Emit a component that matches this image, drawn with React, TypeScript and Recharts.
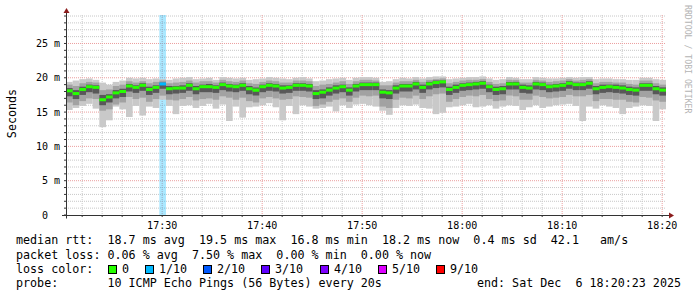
import React from 'react';
import { ComposedChart, Bar, XAxis, YAxis, CartesianGrid } from 'recharts';

// time axis: seconds since midnight, one sample every 40 s
const startTime = 17 * 3600 + 20 * 60 + 23; // 17:20:23
const endTime = startTime + 3600; // 18:20:23
const stepSeconds = 40;
const yMax = 29.15;

const majorLabels = ['17:30', '17:40', '17:50', '18:00', '18:10', '18:20'];
const yLabelTicks = [0, 5, 10, 15, 20, 25];
const yLabels = ['0  ', '5 m', '10 m', '15 m', '20 m', '25 m'];

// median rtt per sample (ms)
const median = [
  18.1, 17.7, 18.3, 18.7, 18.6, 16.8, 17.2, 17.8, 18.0, 18.8, 18.6, 18.9, 18.3, 18.6, 19.1,
  18.4, 18.5, 18.5, 18.9, 18.4, 18.7, 18.7, 18.6, 19.0, 18.8, 18.7, 18.9, 18.4, 18.2, 18.7,
  18.9, 18.8, 18.5, 18.6, 18.9, 18.9, 18.8, 17.7, 17.9, 18.2, 18.5, 18.7, 18.2, 18.8, 19.0,
  19.0, 19.0, 17.9, 17.8, 18.5, 18.8, 18.8, 19.1, 18.6, 19.1, 19.3, 19.4, 18.3, 18.6, 18.9,
  19.0, 19.1, 19.2, 18.7, 18.3, 18.4, 19.1, 19.1, 18.6, 18.5, 19.1, 19.0, 18.7, 18.8, 18.9,
  19.2, 19.0, 19.0, 19.2, 18.4, 18.6, 18.7, 18.6, 18.5, 18.3, 18.2, 18.9, 18.9, 18.4, 18.2,
];

// slowest ping
const pingMax = [
  19.4, 19.6, 19.8, 19.9, 19.7, 19.3, 19.0, 19.4, 19.6, 20.0, 19.9, 20.0, 19.8, 19.9, 19.8,
  19.7, 19.9, 20.0, 20.1, 19.8, 19.9, 20.0, 19.7, 20.1, 20.0, 19.9, 20.0, 19.7, 19.8, 19.9,
  20.1, 20.0, 19.9, 19.8, 20.0, 20.1, 19.9, 19.5, 19.6, 19.8, 19.9, 20.0, 19.7, 20.0, 20.1,
  20.1, 20.0, 19.4, 19.5, 19.8, 20.0, 19.9, 20.1, 19.9, 20.1, 20.2, 20.2, 19.8, 19.9, 20.0,
  20.1, 20.1, 20.2, 19.9, 19.7, 19.8, 20.1, 20.0, 19.8, 19.8, 20.1, 20.0, 19.9, 19.9, 20.0,
  20.1, 20.0, 20.1, 20.1, 19.8, 19.9, 19.9, 19.8, 19.8, 19.7, 19.7, 20.0, 20.0, 19.8, 19.7,
];

// second slowest ping
const pingHi = [
  19.0, 18.8, 19.2, 19.4, 19.3, 18.2, 18.3, 18.8, 19.0, 19.5, 19.3, 19.5, 19.2, 19.4, 19.6,
  19.2, 19.3, 19.4, 19.6, 19.3, 19.5, 19.5, 19.3, 19.7, 19.5, 19.4, 19.6, 19.2, 19.1, 19.4,
  19.6, 19.5, 19.3, 19.3, 19.6, 19.6, 19.5, 18.8, 19.0, 19.1, 19.3, 19.5, 19.1, 19.5, 19.7,
  19.7, 19.6, 18.9, 18.9, 19.3, 19.5, 19.5, 19.7, 19.4, 19.7, 19.8, 19.9, 19.2, 19.4, 19.6,
  19.7, 19.7, 19.8, 19.4, 19.1, 19.2, 19.7, 19.7, 19.3, 19.3, 19.7, 19.6, 19.4, 19.5, 19.6,
  19.8, 19.6, 19.7, 19.8, 19.2, 19.4, 19.4, 19.3, 19.3, 19.1, 19.0, 19.6, 19.6, 19.2, 19.0,
];

// upper inner ping
const pingQ3 = [
  18.5, 18.2, 18.7, 19.0, 18.9, 17.5, 17.6, 18.2, 18.4, 19.1, 18.9, 19.2, 18.7, 18.9, 19.3,
  18.8, 18.8, 18.9, 19.2, 18.8, 19.0, 19.1, 18.9, 19.3, 19.1, 19.0, 19.2, 18.8, 18.6, 19.0,
  19.2, 19.1, 18.9, 18.9, 19.2, 19.2, 19.1, 18.2, 18.3, 18.6, 18.9, 19.0, 18.6, 19.1, 19.3,
  19.3, 19.3, 18.3, 18.2, 18.9, 19.1, 19.1, 19.4, 19.0, 19.4, 19.6, 19.6, 18.7, 19.0, 19.2,
  19.3, 19.4, 19.5, 19.0, 18.7, 18.8, 19.4, 19.4, 19.0, 18.9, 19.4, 19.3, 19.0, 19.1, 19.2,
  19.5, 19.3, 19.3, 19.5, 18.8, 19.0, 19.0, 19.0, 18.9, 18.7, 18.6, 19.2, 19.2, 18.8, 18.6,
];

// lower inner ping
const pingQ1 = [
  17.3, 16.9, 17.5, 17.9, 17.7, 16.0, 16.4, 17.0, 17.2, 18.0, 17.8, 18.1, 17.5, 17.8, 18.4,
  17.6, 17.7, 17.8, 18.1, 17.6, 17.9, 17.9, 17.8, 18.2, 18.0, 17.9, 18.1, 17.6, 17.4, 17.9,
  18.1, 18.0, 17.7, 17.8, 18.1, 18.1, 18.0, 16.9, 17.0, 17.4, 17.7, 17.9, 17.4, 18.0, 18.2,
  18.2, 18.2, 17.0, 16.9, 17.7, 18.0, 18.0, 18.3, 17.8, 18.3, 18.5, 18.6, 17.5, 17.8, 18.1,
  18.2, 18.3, 18.4, 17.9, 17.5, 17.6, 18.3, 18.3, 17.8, 17.7, 18.3, 18.2, 17.9, 18.0, 18.1,
  18.4, 18.2, 18.2, 18.4, 17.6, 17.8, 17.9, 17.8, 17.7, 17.5, 17.4, 18.1, 18.1, 17.6, 17.4,
];

// second fastest ping
const pingLo = [
  16.4, 16.0, 16.6, 17.0, 16.9, 15.2, 15.4, 16.1, 16.4, 17.2, 16.9, 17.1, 16.5, 16.9, 17.4,
  16.8, 16.7, 16.9, 17.2, 16.7, 16.9, 17.0, 16.8, 17.3, 17.1, 16.8, 17.1, 16.6, 16.4, 17.0,
  17.2, 17.0, 16.8, 16.9, 17.3, 17.2, 17.1, 15.9, 16.1, 16.5, 16.8, 17.0, 16.5, 17.1, 17.4,
  17.3, 17.4, 15.8, 15.6, 16.8, 17.1, 17.0, 17.4, 16.9, 17.3, 17.6, 17.7, 16.5, 16.9, 17.2,
  17.4, 17.3, 17.5, 16.9, 16.6, 16.7, 17.4, 17.3, 16.8, 16.8, 17.4, 17.2, 17.0, 17.1, 17.2,
  17.5, 17.3, 17.3, 17.5, 16.6, 16.9, 16.9, 16.8, 16.8, 16.5, 16.4, 17.2, 17.1, 16.7, 16.5,
];

// fastest ping
const pingMin = [
  15.3, 15.6, 15.9, 16.2, 15.5, 12.8, 13.8, 15.8, 15.4, 14.3, 15.9, 14.5, 15.8, 15.6, 16.8,
  15.9, 14.7, 15.9, 16.0, 15.6, 15.9, 16.2, 15.5, 16.1, 13.7, 15.8, 14.2, 15.7, 15.8, 16.0,
  16.3, 15.7, 13.8, 15.9, 14.7, 16.0, 15.8, 15.5, 15.6, 15.8, 15.1, 16.0, 15.6, 16.1, 16.2,
  16.0, 15.8, 15.2, 14.6, 15.6, 16.0, 15.9, 16.1, 15.6, 15.5, 14.7, 14.9, 15.7, 15.8, 16.0,
  16.2, 15.7, 15.8, 16.0, 15.5, 15.8, 16.0, 15.9, 15.3, 15.7, 16.0, 15.6, 15.8, 16.0, 16.1,
  16.2, 15.9, 13.7, 15.8, 15.5, 16.0, 15.8, 15.6, 14.7, 15.6, 15.8, 16.0, 15.9, 13.7, 15.4,
];

// lost pings out of 10
const lossCount = [
  0, 0, 0, 0, 0, 0, 0, 0, 0, 0, 0, 0, 0, 0, 1,
  0, 0, 0, 0, 0, 0, 0, 0, 0, 0, 0, 0, 0, 0, 0,
  0, 0, 0, 0, 0, 0, 0, 0, 0, 0, 0, 0, 0, 0, 0,
  0, 0, 0, 0, 0, 0, 0, 0, 0, 0, 0, 0, 0, 0, 0,
  0, 0, 0, 0, 0, 0, 0, 0, 0, 0, 0, 0, 0, 0, 0,
  0, 0, 0, 0, 0, 0, 0, 0, 0, 0, 0, 0, 0, 0, 0,
];

const lossLegend = [
  { label: '0', color: '#26ff00', x: 108 },
  { label: '1/10', color: '#00b8ff', x: 145 },
  { label: '2/10', color: '#0059ff', x: 203 },
  { label: '3/10', color: '#5e00ff', x: 261 },
  { label: '4/10', color: '#7e00ff', x: 320 },
  { label: '5/10', color: '#dd00ff', x: 378 },
  { label: '9/10', color: '#ff0000', x: 436 },
];
const lossColor = (n: number) => (n === 1 ? '#00b8ff' : n === 2 ? '#0059ff' : n === 3 ? '#5e00ff' : n === 4 ? '#7e00ff' : n <= 8 ? '#dd00ff' : '#ff0000');

const toSec = (hhmm: string) => {
  const [h, m] = hhmm.split(':').map(Number);
  return h * 3600 + m * 60;
};
const majorTimes = majorLabels.map(toSec);
const minorTimes: number[] = [];
for (let t = toSec('17:22'); t <= toSec('18:20'); t += 120) if (!majorTimes.includes(t)) minorTimes.push(t);
const minorY: number[] = [];
for (let v = 1; v < yMax; v++) if (v % 5 !== 0) minorY.push(v);
const allYTicks: number[] = [];
for (let v = 0; v < yMax; v++) allYTicks.push(v);
const allXTicks = [...minorTimes, ...majorTimes].sort((a, b) => a - b);

const MEDIAN_HALF = 0.22;

const data = median.map((m, i) => ({
  t: startTime + stepSeconds * i + stepSeconds / 2,
  median: m,
  outer: [pingMin[i], pingMax[i]],
  mid: [pingLo[i], pingHi[i]],
  inner: [pingQ1[i], pingQ3[i]],
  medOk: lossCount[i] === 0 ? [m - MEDIAN_HALF, m + MEDIAN_HALF] : null,
  medLoss: lossCount[i] > 0 ? [m - MEDIAN_HALF, m + MEDIAN_HALF] : null,
  lossBar: lossCount[i] > 0 ? [0, yMax] : null,
}));

const W = 697;
const H = 297;
const PLOT_LEFT = 66;
const PLOT_W = 600;
const PLOT_TOP = 15;
const PLOT_H = 200;
const BAR = (PLOT_W / (3600 / stepSeconds)) - 0.005;
const MONO = '"DejaVu Sans Mono", monospace';

const XTick = (props: any) => {
  const { x, y, payload } = props;
  const i = majorTimes.indexOf(payload.value);
  if (i < 0) return <g />;
  return (
    <text x={x} y={y + 8.5} textAnchor="middle" fontFamily={MONO} fontSize={10} fill="#000">
      {majorLabels[i]}
    </text>
  );
};

const YTick = (props: any) => {
  const { x, y, payload } = props;
  const i = yLabelTicks.indexOf(payload.value);
  if (i < 0) return <g />;
  return (
    <text x={x} y={y + 3.5} textAnchor="end" fontFamily={MONO} fontSize={10} fill="#000" style={{ whiteSpace: 'pre' }}>
      {yLabels[i]}
    </text>
  );
};

const legendLines = [
  'median rtt:  18.7 ms avg  19.5 ms max  16.8 ms min  18.2 ms now  0.4 ms sd  42.1   am/s',
  'packet loss: 0.06 % avg  7.50 % max  0.00 % min  0.00 % now',
];

export default function App() {
  const axisY = PLOT_TOP + PLOT_H + 0.5;
  const axisX = PLOT_LEFT + 0.5;
  return (
    <div style={{ position: 'absolute', left: 0, top: 0, width: W, height: H, background: '#fff' }}>
      <ComposedChart
        width={W}
        height={PLOT_TOP + PLOT_H + 15}
        data={data}
        margin={{ top: PLOT_TOP, right: W - PLOT_LEFT - PLOT_W, bottom: 0, left: 0 }}
        barGap="-100%"
        barCategoryGap={0}
      >
        <CartesianGrid horizontalValues={minorY} verticalValues={minorTimes} stroke="#c8c8c8" strokeDasharray="1 1" />
        <CartesianGrid horizontalValues={[5, 10, 15, 20, 25]} verticalValues={majorTimes} stroke="#eb9f9f" strokeDasharray="1 1" />
        <XAxis
          dataKey="t"
          type="number"
          domain={[startTime, endTime]}
          ticks={allXTicks}
          interval={0}
          height={15}
          axisLine={false}
          tickLine={{ stroke: '#333' }}
          tickSize={2}
          tickMargin={3}
          tick={XTick}
          allowDataOverflow
        />
        <YAxis
          type="number"
          domain={[0, yMax]}
          ticks={allYTicks}
          interval={0}
          width={PLOT_LEFT}
          axisLine={false}
          tickLine={{ stroke: '#333' }}
          tickSize={2}
          tickMargin={4}
          tick={YTick}
          allowDataOverflow
        />
        <Bar dataKey="lossBar" fill="#00b8ff" fillOpacity={0.33} barSize={BAR} isAnimationActive={false} />
        <Bar dataKey="outer" fill="#c9c9c9" barSize={BAR} isAnimationActive={false} />
        <Bar dataKey="mid" fill="#a2a2a2" barSize={BAR} isAnimationActive={false} />
        <Bar dataKey="inner" fill="#585858" barSize={BAR} isAnimationActive={false} />
        <Bar dataKey="medOk" fill="#26ff00" barSize={BAR} isAnimationActive={false} />
        <Bar dataKey="medLoss" fill={lossColor(1)} barSize={BAR} isAnimationActive={false} />
      </ComposedChart>
      <svg width={W} height={H} style={{ position: 'absolute', left: 0, top: 0, pointerEvents: 'none' }}>
        <line x1={axisX} y1={12} x2={axisX} y2={axisY + 3} stroke="#333" />
        <line x1={PLOT_LEFT - 4} y1={axisY} x2={PLOT_LEFT + PLOT_W + 4} y2={axisY} stroke="#333" />
        <polygon points={`${axisX},8 ${axisX - 3},13 ${axisX + 3},13`} fill="#8b1c1c" />
        <polygon points={`${PLOT_LEFT + PLOT_W + 8},${axisY} ${PLOT_LEFT + PLOT_W + 3},${axisY - 3} ${PLOT_LEFT + PLOT_W + 3},${axisY + 3}`} fill="#8b1c1c" />
        <text transform="translate(16,113.5) rotate(-90)" textAnchor="middle" fontFamily={MONO} fontSize={11.7} fill="#000">
          Seconds
        </text>
        <text transform="translate(684.5,5) rotate(90)" fontFamily={MONO} fontSize={8.2} fill="#b4b4b4">
          RRDTOOL / TOBI OETIKER
        </text>
        {legendLines.map((s, i) => (
          <text key={i} x={16} y={244.2 + i * 14.4} fontFamily={MONO} fontSize={11.7} fill="#000" style={{ whiteSpace: 'pre' }}>
            {s}
          </text>
        ))}
        <text x={16} y={273} fontFamily={MONO} fontSize={11.7} fill="#000">loss color:</text>
        {lossLegend.map((l) => (
          <g key={l.label}>
            <rect x={l.x + 0.5} y={265.5} width={8} height={8} fill={l.color} stroke="#000" strokeWidth={1} />
            <text x={l.x + 14} y={273} fontFamily={MONO} fontSize={11.7} fill="#000">{l.label}</text>
          </g>
        ))}
        <text x={16} y={287.4} fontFamily={MONO} fontSize={11.7} fill="#000" style={{ whiteSpace: 'pre' }}>
          {'probe:       10 ICMP Echo Pings (56 Bytes) every 20s'}
        </text>
        <text x={681} y={287.4} textAnchor="end" fontFamily={MONO} fontSize={11.7} fill="#000" style={{ whiteSpace: 'pre' }}>
          {'end: Sat Dec  6 18:20:23 2025'}
        </text>
      </svg>
    </div>
  );
}
